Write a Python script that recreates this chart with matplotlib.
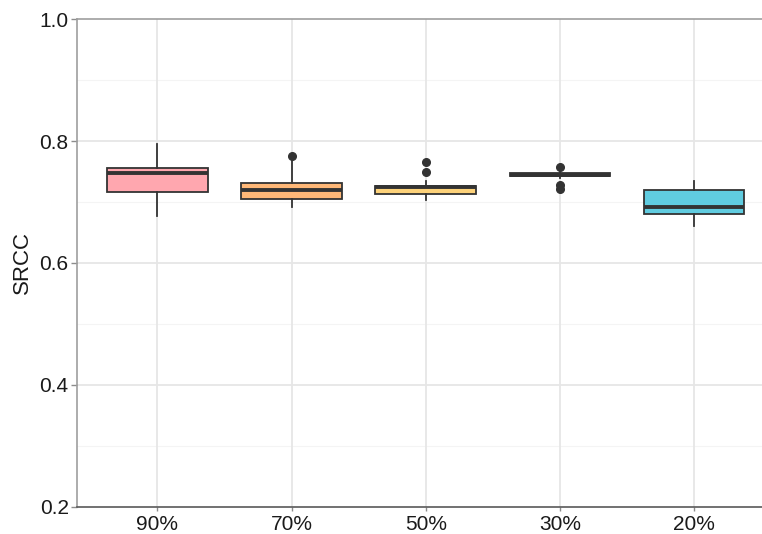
import matplotlib
matplotlib.use("Agg")
import matplotlib.pyplot as plt
import numpy as np

plt.rcParams['font.family'] = ['Liberation Sans', 'DejaVu Sans']

# box summaries per retention ratio
groups = ['90%', '70%', '50%', '30%', '20%']
q1 = [0.716, 0.705, 0.713, 0.743, 0.680]
med = [0.747, 0.720, 0.7245, 0.745, 0.691]
q3 = [0.755, 0.731, 0.727, 0.747, 0.719]
whis_lo = [0.677, 0.691, 0.703, 0.740, 0.661]
whis_hi = [0.795, 0.768, 0.735, 0.750, 0.735]
outliers = [[], [0.775], [0.749, 0.766], [0.758, 0.728, 0.722], []]
fills = ['#FFA7AF', '#FFB878', '#FDD27A', '#F0E07A', '#60CCE0']

stats = []
for i, g in enumerate(groups):
    stats.append(dict(label=g, q1=q1[i], med=med[i], q3=q3[i],
                      whislo=whis_lo[i], whishi=whis_hi[i],
                      fliers=outliers[i]))

fig = plt.figure(figsize=(7.62, 5.34), dpi=100)
ax = fig.add_axes([0.101, 0.0506, 0.899, 0.9138])

# grid lines
for y in [0.3, 0.5, 0.7, 0.9]:
    ax.axhline(y, color='#F4F4F4', lw=0.8, zorder=0)
for y in [0.4, 0.6, 0.8]:
    ax.axhline(y, color='#E6E6E6', lw=1.3, zorder=0)
pos = np.arange(1, len(groups) + 1)
for x in pos:
    ax.axvline(x, color='#E6E6E6', lw=1.3, zorder=0)

edge = '#333333'
bp = ax.bxp(stats, positions=pos, widths=0.75, patch_artist=True,
            showcaps=False,
            boxprops=dict(edgecolor=edge, linewidth=1.3),
            whiskerprops=dict(color=edge, linewidth=1.3),
            medianprops=dict(color=edge, linewidth=2.8),
            flierprops=dict(marker='o', markersize=5.5, markerfacecolor=edge,
                            markeredgecolor=edge))
for patch, c in zip(bp['boxes'], fills):
    patch.set_facecolor(c)

ax.set_xlim(0.4, 5.506)
ax.set_ylim(0.2, 1.0)
ax.set_yticks([0.2, 0.4, 0.6, 0.8, 1.0])
ax.set_yticklabels(['0.2', '0.4', '0.6', '0.8', '1.0'])
ax.set_xticks(pos)
ax.set_xticklabels(groups)
ax.set_ylabel('SRCC', fontsize=16, color='#1A1A1A', labelpad=5)

ax.tick_params(axis='y', length=4, width=1, color='#8C8C8C', labelsize=15,
               labelcolor='#1A1A1A', pad=2)
ax.tick_params(axis='x', length=3, width=1, color='#8C8C8C', labelsize=15,
               labelcolor='#1A1A1A', pad=3)

ax.spines['right'].set_visible(False)
ax.spines['top'].set_color('#9E9E9E')
ax.spines['left'].set_color('#9E9E9E')
ax.spines['bottom'].set_color('#595959')
for s in ['top', 'left', 'bottom']:
    ax.spines[s].set_linewidth(1.2)

fig.savefig('out.png', dpi=100)
